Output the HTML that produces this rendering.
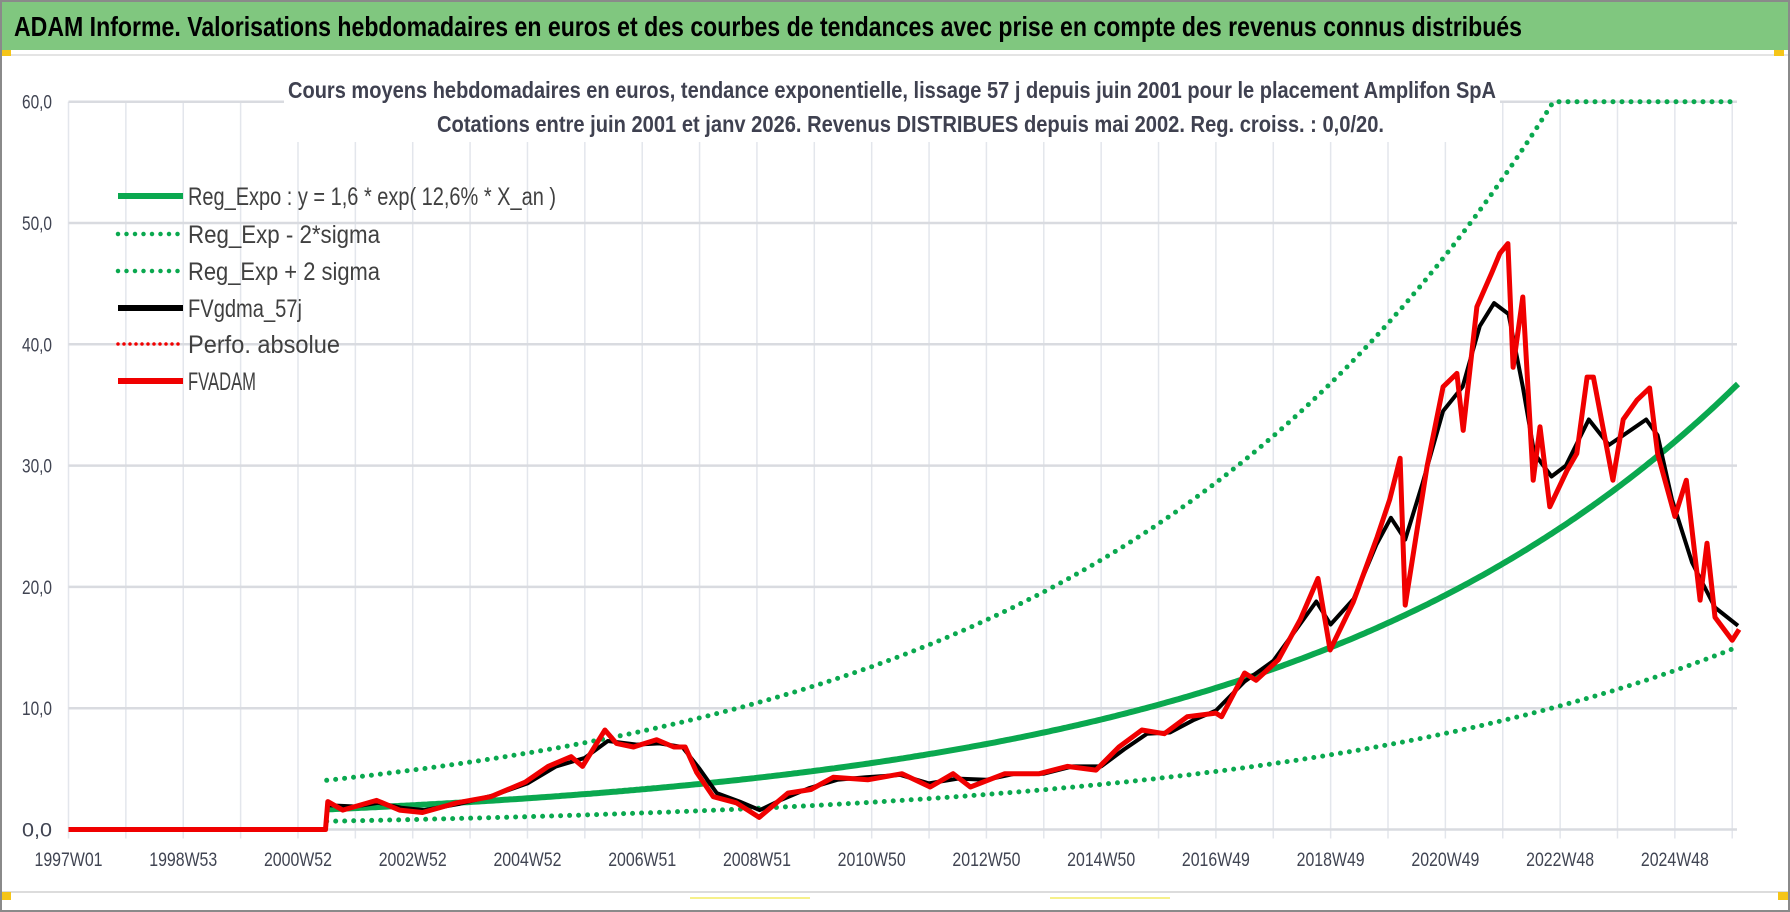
<!DOCTYPE html>
<html><head><meta charset="utf-8"><style>
html,body{margin:0;padding:0;background:#fff;}
svg{display:block;}
text{font-family:"Liberation Sans Narrow","Liberation Sans",sans-serif;}
</style></head><body>
<svg id="c" width="1790" height="912" viewBox="0 0 1790 912" xmlns="http://www.w3.org/2000/svg">
<rect x="0" y="0" width="1790" height="912" fill="#fff"/>
<rect x="1" y="1" width="1788" height="910" fill="none" stroke="#8a8a8a" stroke-width="2"/>
<rect x="2" y="2" width="1786" height="48" fill="#80c77f"/>
<text x="14" y="36" font-size="28" font-weight="bold" fill="#000" textLength="1508" lengthAdjust="spacingAndGlyphs">ADAM Informe. Valorisations hebdomadaires en euros et des courbes de tendances avec prise en compte des revenus connus distribués</text>
<line x1="2" y1="55" x2="1788" y2="55" stroke="#e4e4e4" stroke-width="2"/>
<rect x="2" y="50" width="9" height="6" fill="#f5c518"/>
<rect x="1774" y="50" width="10" height="6" fill="#f5c518"/>
<line x1="2" y1="892" x2="1788" y2="892" stroke="#dcdcdc" stroke-width="2"/>
<rect x="2" y="892" width="9" height="8" fill="#f5c518"/>
<rect x="1778" y="892" width="10" height="8" fill="#f5c518"/>
<line x1="690" y1="898" x2="810" y2="898" stroke="#f6f08a" stroke-width="2"/>
<line x1="1050" y1="898" x2="1170" y2="898" stroke="#f6f08a" stroke-width="2"/>
<g id="grid"></g>
<rect x="284" y="76" width="1216" height="66" fill="#fff"/>
<text x="288" y="98" font-size="23" font-weight="bold" fill="#3f4150" textLength="1208" lengthAdjust="spacingAndGlyphs">Cours moyens hebdomadaires en euros, tendance exponentielle, lissage 57 j depuis juin 2001 pour le placement Amplifon SpA</text>
<text x="437" y="132" font-size="23" font-weight="bold" fill="#3f4150" textLength="947" lengthAdjust="spacingAndGlyphs">Cotations entre juin 2001 et janv 2026.  Revenus DISTRIBUES depuis mai 2002. Reg. croiss. : 0,0/20.</text>
<g id="axes"></g>
<g id="series"></g>
<g id="legend"></g>
</svg>
<script>
// ---- data ----
const yTicks = [0,10,20,30,40,50,60];
const yTickLabels = ["0,0","10,0","20,0","30,0","40,0","50,0","60,0"];
const xTickYears = [1997,1999,2001,2003,2005,2007,2009,2011,2013,2015,2017,2019,2021,2023,2025];
const xTickLabels = ["1997W01","1998W53","2000W52","2002W52","2004W52","2006W51","2008W51","2010W50","2012W50","2014W50","2016W49","2018W49","2020W49","2022W48","2024W48"];
const regParams = [1.6, 0.126, 2001.23]; // y = a*exp(r*(t-t0))
const bandFactors = [0.41, 2.45];
const regStartEnd = [2001.5, 2026.1];
const redYears = [1997,2001.48,2001.52,2001.78,2002.37,2002.77,2003.17,2003.77,2004.36,2004.96,2005.36,2005.76,2005.96,2006.35,2006.55,2006.85,2007.25,2007.55,2007.75,2007.95,2008.24,2008.64,2009.04,2009.34,2009.54,2009.94,2010.33,2010.93,2011.53,2012.02,2012.42,2012.72,2013.32,2013.92,2014.41,2014.91,2015.31,2015.71,2016.10,2016.50,2017.00,2017.10,2017.50,2017.70,2018.09,2018.47,2018.78,2018.99,2019.39,2019.81,2020.03,2020.21,2020.30,2020.68,2020.96,2021.20,2021.31,2021.55,2021.81,2021.95,2022.09,2022.18,2022.35,2022.53,2022.65,2022.82,2023.12,2023.29,2023.47,2023.58,2023.92,2024.10,2024.34,2024.56,2024.70,2025.00,2025.20,2025.44,2025.56,2025.70,2026.00,2026.12];
const redValues = [0,0,2.3,1.6,2.4,1.6,1.4,2.2,2.7,3.9,5.2,6.0,5.2,8.2,7.1,6.8,7.4,6.8,6.8,4.7,2.7,2.2,1.0,2.2,3.0,3.3,4.3,4.1,4.6,3.5,4.6,3.5,4.6,4.6,5.2,4.9,6.8,8.2,7.9,9.3,9.6,9.3,12.9,12.3,14.0,17.3,20.7,14.8,18.7,24.1,27.2,30.6,18.5,29.9,36.5,37.6,32.9,43.1,45.9,47.5,48.3,38.1,43.9,28.8,33.2,26.6,29.6,31.0,37.3,37.3,28.8,33.8,35.4,36.4,31.0,25.8,28.8,18.9,23.6,17.5,15.6,16.5];
const blackYears = [2001.52,2002.0,2002.4,2002.8,2003.2,2003.8,2004.4,2005.0,2005.5,2006.0,2006.4,2006.9,2007.3,2007.7,2008.0,2008.3,2008.7,2009.05,2009.4,2009.9,2010.4,2010.9,2011.5,2012.0,2012.5,2013.0,2013.5,2014.0,2014.5,2015.0,2015.4,2015.8,2016.2,2016.6,2017.0,2017.5,2018.0,2018.4,2018.75,2019.0,2019.4,2019.8,2020.05,2020.3,2020.6,2020.96,2021.3,2021.6,2021.85,2022.1,2022.35,2022.55,2022.85,2023.1,2023.5,2023.85,2024.1,2024.5,2024.7,2024.95,2025.3,2025.7,2026.1];
const blackValues = [2.0,1.9,2.2,1.8,1.6,2.1,2.8,3.8,5.2,5.9,7.3,7.0,7.1,6.8,5.0,3.0,2.3,1.6,2.4,3.4,4.1,4.3,4.5,3.8,4.2,4.1,4.6,4.6,5.2,5.2,6.6,7.9,8.0,9.0,9.8,12.2,13.9,16.5,18.8,16.9,19.0,23.5,25.7,23.9,28.5,34.5,36.5,41.5,43.4,42.5,36.5,31.0,29.1,30.0,33.8,31.7,32.5,33.8,32.5,27.2,22.0,18.3,16.8];
const legendLabels = ["Reg_Expo : y = 1,6 * exp( 12,6% *  X_an )","Reg_Exp - 2*sigma","Reg_Exp + 2 sigma","FVgdma_57j","Perfo. absolue","FVADAM"];

// ---- axes ----
const NS="http://www.w3.org/2000/svg";
const X0=68.5, YR0=1997, PXY=57.37, Y0=829.5, PXV=12.13, XR=1737;
const xs=t=>X0+(t-YR0)*PXY;
const ys=v=>Y0-v*PXV;
function mk(tag,attrs,parent){const e=document.createElementNS(NS,tag);for(const k in attrs)e.setAttribute(k,attrs[k]);parent.appendChild(e);return e;}
const grid=document.getElementById('grid'), axes=document.getElementById('axes'), series=document.getElementById('series'), legend=document.getElementById('legend');
for(let yr=1997;yr<=2026;yr++){
  const l=mk('line',{x1:xs(yr),x2:xs(yr),y1:ys(60),y2:Y0+9,stroke:'#e3e6ec','stroke-width':1.5},grid);
  
  
}
yTicks.forEach((v,i)=>{
  const l=mk('line',{x1:X0,x2:XR,y1:ys(v),y2:ys(v),stroke:'#d9dbe0','stroke-width':2.5},grid);
  
  
  const t=mk('text',{x:52,y:ys(v)+7,'font-size':19,fill:'#404452','text-anchor':'end',textLength:30,lengthAdjust:'spacingAndGlyphs'},axes);
  t.textContent=yTickLabels[i];
  
  
});
xTickYears.forEach((yr,i)=>{
  const t=mk('text',{x:xs(yr),y:866,'font-size':19,fill:'#404452','text-anchor':'middle',textLength:68,lengthAdjust:'spacingAndGlyphs'},axes);
  t.textContent=xTickLabels[i];
  
  
});
// ---- series ----
function reg(t){return regParams[0]*Math.exp(regParams[1]*(t-regParams[2]));}
function curve(f){const p=[];for(let t=regStartEnd[0];t<=regStartEnd[1]+1e-9;t+=0.05)p.push(xs(t).toFixed(1)+','+ys(Math.min(60,f(t))).toFixed(1));return p.join(' ');}
const lo=mk('polyline',{points:curve(t=>reg(t)*bandFactors[0]),fill:'none',stroke:'#0aa84f','stroke-width':5,'stroke-dasharray':'0 9','stroke-linecap':'round'},series);


const hi=mk('polyline',{points:curve(t=>reg(t)*bandFactors[1]),fill:'none',stroke:'#0aa84f','stroke-width':5,'stroke-dasharray':'0 9','stroke-linecap':'round'},series);


const tr=mk('polyline',{points:curve(reg),fill:'none',stroke:'#0aa84f','stroke-width':6},series);


const bk=mk('polyline',{points:blackYears.map((t,i)=>xs(t).toFixed(1)+','+ys(blackValues[i]).toFixed(1)).join(' '),fill:'none',stroke:'#000','stroke-width':4,'stroke-linejoin':'round'},series);


const rd=mk('polyline',{points:redYears.map((t,i)=>xs(t).toFixed(1)+','+ys(redValues[i]).toFixed(1)).join(' '),fill:'none',stroke:'#f00000','stroke-width':5,'stroke-linejoin':'round'},series);


// ---- legend ----
const legRows=[196,234,271,308,344,381];
const legStyles=[['#0aa84f',6,''],['#0aa84f',4.5,'0 8.5'],['#0aa84f',4.5,'0 8.5'],['#000',6,''],['#f00000',3.5,'0 6'],['#f00000',6,'']];
const legW=[368,192,192,114,152,68];
legendLabels.forEach((lab,i)=>{
  const s=legStyles[i];
  const a={x1:118,x2:183,y1:legRows[i],y2:legRows[i],stroke:s[0],'stroke-width':s[1]};
  if(s[2]){a['stroke-dasharray']=s[2];a['stroke-linecap']='round';}
  const l=mk('line',a,legend);
  
  
  const t=mk('text',{x:188,y:legRows[i]+9,'font-size':25,fill:'#404040',textLength:legW[i],lengthAdjust:'spacingAndGlyphs'},legend);
  t.textContent=lab;
  
  
});
</script>
</body></html>
